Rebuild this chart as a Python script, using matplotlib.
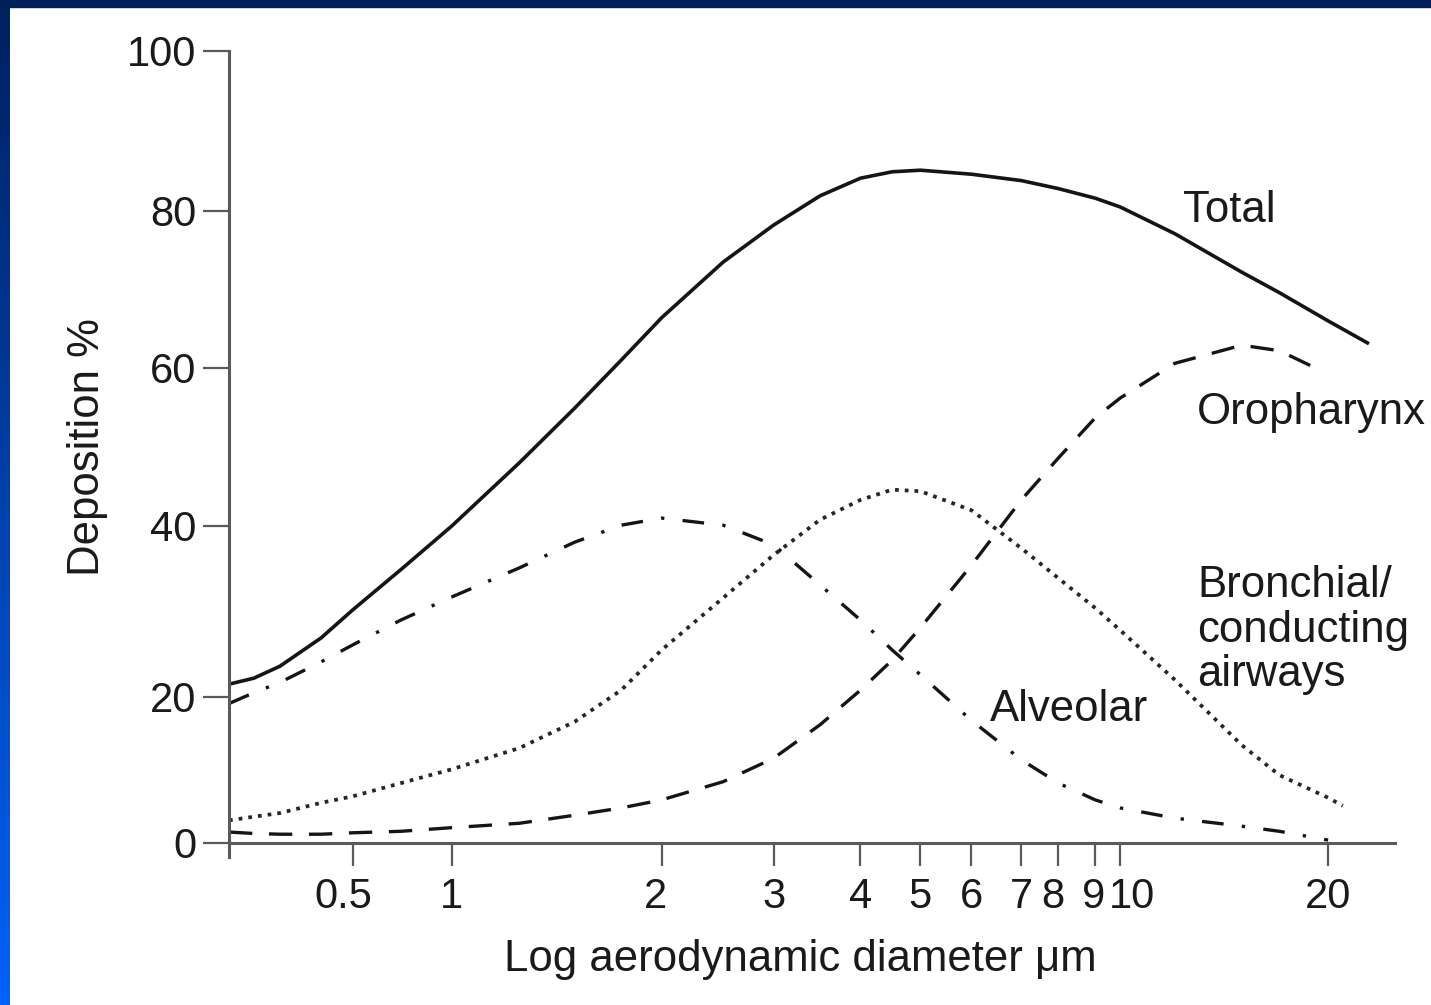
import numpy as np
import matplotlib.pyplot as plt
from matplotlib.colors import LinearSegmentedColormap
from matplotlib.patches import Rectangle
from matplotlib.transforms import ScaledTranslation

plt.rcParams['font.family'] = ['Liberation Sans', 'DejaVu Sans']

# aerodynamic diameter (um) vs deposition (%)
diam = [0.21, 0.25, 0.3, 0.4, 0.5, 0.7, 1, 1.25, 1.5, 1.75, 2, 2.5, 3, 3.5, 4, 4.5,
        5, 6, 7, 8, 9, 10, 12, 15, 17, 20]

total_d = diam + [22.8]
total = [21.5, 22.2, 23.6, 26.9, 30.2, 34.9, 40.0, 48.0, 54.9, 61.0, 66.4, 73.5, 78.2,
         81.9, 84.1, 84.9, 85.1, 84.6, 83.8, 82.8, 81.6, 80.5, 77.1, 72.2, 69.6,
         66.0, 63.2]

alveolar_d = diam
alveolar = [19.1, 20.5, 21.7, 24.1, 26.1, 29.0, 31.7, 35.1, 38.1, 40.1, 41.0, 40.1, 37.8,
            33.1, 29.0, 25.5, 22.6, 16.8, 11.4, 8.2, 5.9, 4.8, 3.4, 2.3, 1.6, 0.4]

bronchial_d = diam + [21.0]
bronchial = [3.1, 3.6, 4.1, 5.5, 6.4, 8.2, 10.1, 13.0, 16.6, 20.8, 25.5, 31.6, 36.6,
             40.8, 43.3, 44.6, 44.4, 42.0, 37.4, 33.9, 30.4, 27.8, 22.0, 13.4, 9.3,
             6.2, 5.1]

oro_d = diam[:-1] + [19.5]
oropharynx = [1.5, 1.3, 1.2, 1.2, 1.4, 1.6, 2.1, 2.7, 3.8, 4.8, 5.9, 8.4, 11.6, 16.2,
              20.8, 24.3, 28.1, 35.4, 43.3, 48.6, 53.7, 56.2, 60.6, 62.9, 62.2, 59.7]

x_ticks = [0.5, 1, 2, 3, 4, 5, 6, 7, 8, 9, 10, 20]
x_labels = ['0.5', '1', '2', '3', '4', '5', '6', '7', '8', '9', '10', '20']
y_ticks = [0, 20, 40, 60, 80, 100]

# the printed axes are hand drawn: tick spacing is not a clean log / linear scale
x_knot_val = [0.1, 0.5, 1, 2, 3, 4, 5, 6, 7, 8, 9, 10, 20, 100]
x_knot_pos = [122, 352, 451, 661, 773, 860, 920, 971, 1021, 1058, 1095, 1120, 1328, 1811]
y_knot_val = [-20, 0, 20, 40, 60, 80, 100, 120]
y_knot_pos = [-146, 0, 146, 317, 475, 632, 792, 952]


def fwd_x(v):
    return np.interp(np.log10(np.clip(v, 1e-6, None)), np.log10(x_knot_val), x_knot_pos)


def inv_x(p):
    return 10 ** np.interp(p, x_knot_pos, np.log10(x_knot_val))


def fwd_y(v):
    return np.interp(v, y_knot_val, y_knot_pos)


def inv_y(p):
    return np.interp(p, y_knot_pos, y_knot_val)


fig = plt.figure(figsize=(14.31, 10.05), dpi=100)

# blue slide frame
strip = fig.add_axes([0, 0, 10 / 1431, 1])
strip.imshow(np.linspace(0, 1, 256)[:, None], aspect='auto',
             cmap=LinearSegmentedColormap.from_list('frame', ['#00205e', '#0062fa']))
strip.axis('off')
fig.patches.append(Rectangle((0, 1 - 7 / 1005), 1, 7 / 1005, transform=fig.transFigure,
                             color='#00205a', zorder=3))

ax = fig.add_axes([229 / 1431, 148 / 1005, 1166 / 1431, 806 / 1005])
ax.set_xscale('function', functions=(fwd_x, inv_x))
ax.set_yscale('function', functions=(fwd_y, inv_y))

ink = '#151515'
ax.plot(total_d, total, color=ink, lw=2.6, solid_joinstyle='round')
ax.plot(alveolar_d, alveolar, color=ink, lw=2.4, ls=(0, (6.5, 5.5, 1, 5.5)))
ax.plot(bronchial_d, bronchial, color='#262626', lw=2.7, ls=(0, (1, 1.6)))
ax.plot(oro_d, oropharynx, color=ink, lw=2.4, ls=(0, (7, 5)))

ax.set_xlim(0.21, 25)
ax.set_ylim(-1.92, 100)

for side in ['top', 'right']:
    ax.spines[side].set_visible(False)
ax.spines['bottom'].set_position(('data', 0))
for side in ['left', 'bottom']:
    ax.spines[side].set_color('#5a5a5a')
    ax.spines[side].set_linewidth(2.2)

ax.set_xticks(x_ticks, x_labels)
ax.set_yticks(y_ticks, [str(v) for v in y_ticks])
ax.minorticks_off()
ax.tick_params(axis='x', direction='out', length=16.5, width=1.6, color='#5a5a5a',
               pad=8, labelsize=30, labelcolor='#1a1a1a')
ax.tick_params(axis='y', direction='out', length=18.7, width=1.6, color='#5a5a5a',
               pad=5, labelsize=30, labelcolor='#1a1a1a')

# small hand-set nudges of crowded tick labels, in pixels
x_label_shift = {'0.5': -10, '2': -6, '8': -5, '9': -2, '10': 12}
for lab in ax.get_xticklabels():
    dx = x_label_shift.get(lab.get_text(), 0)
    if dx:
        lab.set_transform(lab.get_transform() + ScaledTranslation(dx / 100, 0, fig.dpi_scale_trans))

ax.set_xlabel('Log aerodynamic diameter μm', fontsize=31.5, color='#1a1a1a', va='center')
ax.xaxis.set_label_coords(0.4897, -0.127)
ax.set_ylabel('Deposition %', fontsize=31.5, color='#1a1a1a', va='center')
ax.yaxis.set_label_coords(-0.121, 0.509)

txt = dict(fontsize=31.5, color='#1a1a1a', ha='left', va='baseline')
ax.text(12.34, 78.6, 'Total', **txt)
ax.text(12.92, 52.9, 'Oropharynx', **txt)
# multi-line text: baseline refers to the last line here
ax.text(12.92, 21.3, 'Bronchial/\nconducting\nairways', linespacing=1.1, **txt)
ax.text(6.36, 16.7, 'Alveolar', **txt)

fig.savefig('out.png', dpi=100, facecolor='white')
